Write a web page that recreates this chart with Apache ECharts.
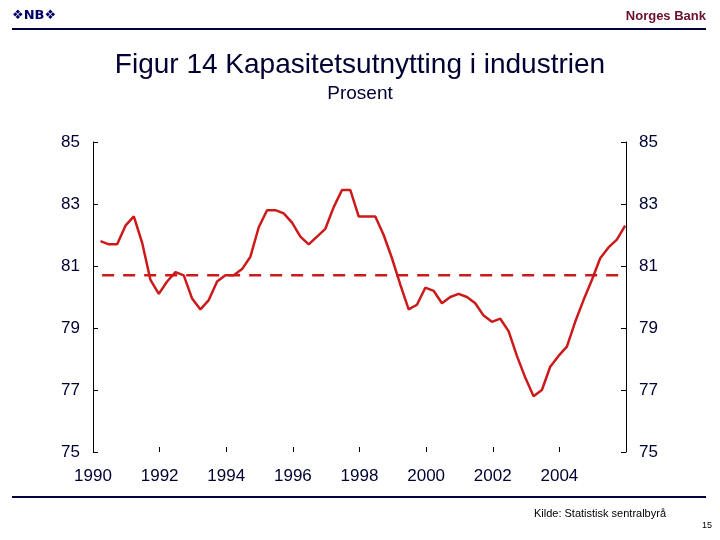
<!DOCTYPE html>
<html>
<head>
<meta charset="utf-8">
<script src="https://cdn.jsdelivr.net/npm/echarts@6/dist/echarts.min.js"></script>
<style>html,body{margin:0;padding:0;background:#fff}#c{width:720px;height:540px}</style>
</head>
<body>
<div id="c"></div>
<script>
// Quarterly capacity utilisation, 1990 K1 - 2005 K4 (per cent)
var startYear = 1990;
var capacity = [
  81.8, 81.7, 81.7, 82.3, 82.6, 81.75, 80.55, 80.1,
  80.5, 80.8, 80.7, 79.95, 79.6, 79.9, 80.5, 80.7,
  80.7, 80.9, 81.3, 82.25, 82.8, 82.8, 82.7, 82.4,
  81.95, 81.7, 81.95, 82.2, 82.9, 83.45, 83.45, 82.6,
  82.6, 82.6, 82.0, 81.25, 80.4, 79.6, 79.75, 80.3,
  80.2, 79.8, 80.0, 80.1, 80.0, 79.8, 79.4, 79.2,
  79.3, 78.9, 78.1, 77.4, 76.8, 77.0, 77.75, 78.1,
  78.4, 79.2, 79.9, 80.55, 81.25, 81.6, 81.85, 82.3
];
var average = 80.7;
var yTicks = [75, 77, 79, 81, 83, 85];
var xTickLabels = ['1990', '1992', '1994', '1996', '1998', '2000', '2002', '2004'];

var lineData = capacity.map(function (v, i) { return [startYear + (i + 0.9) / 4, v]; });
var avgData = [[lineData[0][0] + 0.05, average], [lineData[lineData.length - 1][0], average]];

var navy = '#000033';
var red = '#CC1A1A';
var font = 'Liberation Sans, Arial, sans-serif';
var chart = echarts.init(document.getElementById('c'), null, {renderer: 'canvas'});
var yAxisCommon = {
  type: 'value', min: yTicks[0], max: yTicks[yTicks.length - 1], interval: 2,
  axisLine: {show: true, lineStyle: {color: '#000', width: 1}},
  axisTick: {show: true, inside: true, length: 5, lineStyle: {color: '#000'}},
  splitLine: {show: false},
  axisLabel: {color: navy, fontSize: 17, fontFamily: font, margin: 13}
};
chart.setOption({
  animation: false,
  backgroundColor: '#fff',
  grid: {left: 93, right: 94, top: 142, bottom: 88, containLabel: false},
  xAxis: {
    type: 'value', min: 1990, max: 2006, interval: 2,
    axisLine: {show: false},
    axisTick: {show: true, inside: true, length: 5, lineStyle: {color: '#000'}},
    splitLine: {show: false},
    axisLabel: {
      color: navy, fontSize: 17, fontFamily: font, margin: 16,
      formatter: function (v) { return xTickLabels.indexOf(String(v)) >= 0 ? String(v) : ''; }
    }
  },
  yAxis: [
    Object.assign({position: 'left'}, yAxisCommon),
    Object.assign({position: 'right'}, yAxisCommon)
  ],
  series: [
    {type: 'line', data: avgData, symbol: 'none', yAxisIndex: 0,
     lineStyle: {color: red, width: 2.5, type: [12, 9]}},
    {type: 'line', data: lineData, symbol: 'none', yAxisIndex: 0,
     lineStyle: {color: red, width: 2.5}}
  ],
  graphic: [
    {type: 'text', left: 12, top: 9, style: {text: '❖NB❖', fill: '#000066', font: 'bold 13px DejaVu Sans'}},
    {type: 'text', right: 14, top: 10, style: {text: 'Norges Bank', fill: '#6B0F2B', font: 'bold 13px ' + font}},
    {type: 'line', shape: {x1: 12, y1: 29, x2: 706, y2: 29}, style: {stroke: '#000040', lineWidth: 2}},
    {type: 'text', left: 'center', top: 51, style: {text: 'Figur 14 Kapasitetsutnytting i industrien', fill: navy, font: '28px ' + font}},
    {type: 'text', left: 'center', top: 84, style: {text: 'Prosent', fill: navy, font: '19px ' + font}},
    {type: 'line', shape: {x1: 12, y1: 497, x2: 706, y2: 497}, style: {stroke: '#000040', lineWidth: 2}},
    {type: 'text', right: 54, top: 508, style: {text: 'Kilde: Statistisk sentralbyrå', fill: '#000', font: '11px ' + font}},
    {type: 'text', right: 8, top: 521, style: {text: '15', fill: '#000', font: '9px ' + font}}
  ]
});
</script>
</body>
</html>
